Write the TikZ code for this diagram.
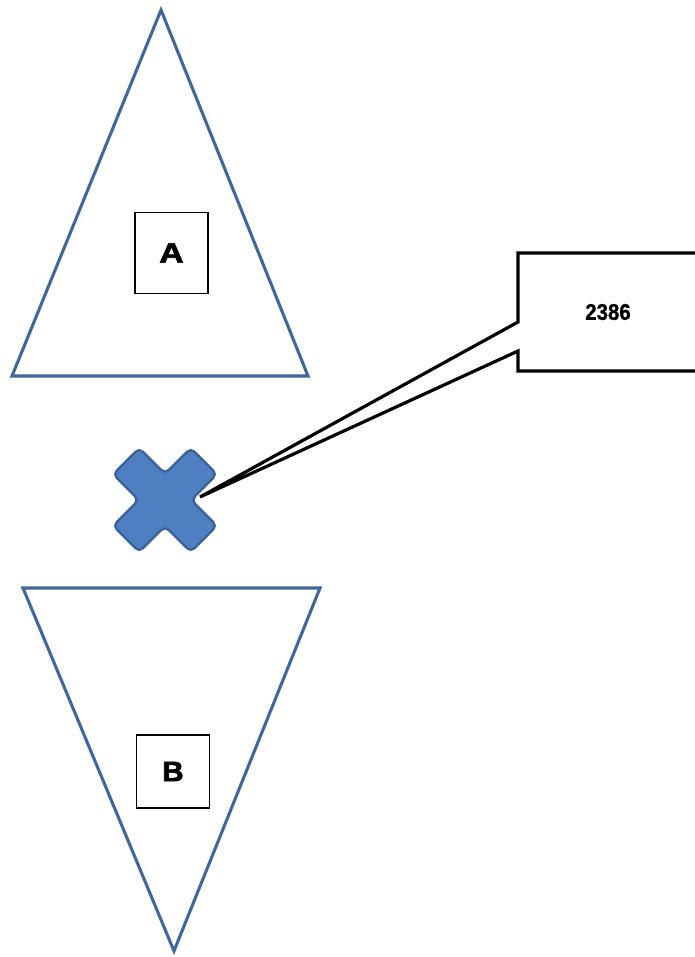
\documentclass[tikz,border=0pt]{standalone}
\usepackage{fontspec}
\setmainfont{Liberation Sans}
\newfontfamily\heavyfont[FakeBold=2.5]{Liberation Sans Bold}
\newfontfamily\numfont[FakeBold=1.2]{Liberation Sans Bold}
\begin{document}
\begin{tikzpicture}[x=0.75pt,y=-0.75pt,
  tri/.style={draw=triblue,line width=2.3pt,line join=miter},
  lbl/.style={draw=black,line width=1.2pt,fill=white,minimum width=55pt,minimum height=61pt,inner sep=0pt,font=\heavyfont\fontsize{21}{21}\selectfont},
  crossstyle/.style={fill=xblue,draw=xedge,line width=1.8pt,rounded corners=4pt},
  callout/.style={draw=black,line width=2.4pt,fill=white,line join=miter}]
\definecolor{triblue}{HTML}{3F679D}
\definecolor{xblue}{HTML}{4F7FC0}
\definecolor{xedge}{HTML}{3A639C}
\useasboundingbox (0,0) rectangle (694,957);
\fill[white] (0,0) rectangle (694,957);
% triangle A
\draw[tri] (161,10) -- (308,376) -- (12,376) -- cycle;
\node[lbl] (A) at (171.5,253) {\scalebox{1.2}[1]{A}};
% triangle B
\draw[tri] (23,588) -- (320,588) -- (174,951) -- cycle;
\node[lbl,minimum height=55pt] (B) at (173,771.5) {\scalebox{1.05}[1]{B}};
% cross
\coordinate (xc) at (165,500);
\begin{scope}[shift={(xc)},rotate=45]
\path[crossstyle] (18.5,18.5) -- (55,18.5) -- (55,-18.5) -- (18.5,-18.5) -- (18.5,-55) -- (-18.5,-55) -- (-18.5,-18.5) -- (-55,-18.5) -- (-55,18.5) -- (-18.5,18.5) -- (-18.5,55) -- (18.5,55) -- cycle;
\end{scope}
% callout
\coordinate (tip) at (200,497);
\draw[callout] (518,253) -- (700,253) -- (700,371) -- (518,371) -- (518,351) -- (tip) -- (518,322) -- cycle;
\node[font=\numfont\fontsize{17}{17}\selectfont] (lab) at (608,312) {\scalebox{0.9}[1]{2386}};
\end{tikzpicture}
\end{document}
